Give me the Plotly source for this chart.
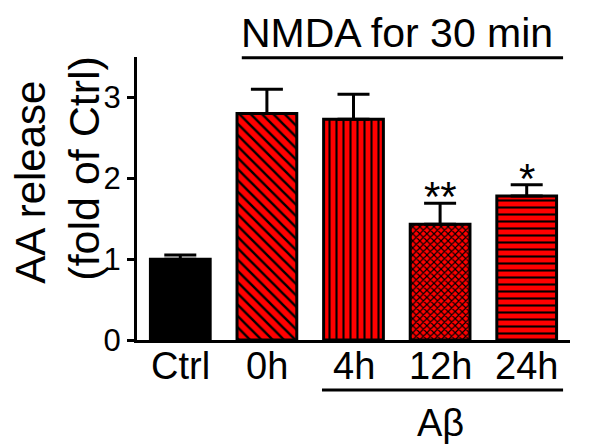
import plotly.graph_objects as go

categories = ["Ctrl", "0h", "4h", "12h", "24h"]
values = [1.00, 2.80, 2.73, 1.43, 1.78]
errors = [0.05, 0.30, 0.31, 0.26, 0.14]
patterns = ["", "\\", "|", "x", "-"]
stars = ["", "", "", "**", "*"]
y_ticks = [0, 1, 2, 3]

FONT = "Liberation Sans, Arial, sans-serif"
xs = list(range(len(categories)))
RED = "#ff0000"

fig = go.Figure()
# control bar (solid black)
fig.add_trace(go.Bar(
    x=xs[:1], y=values[:1], width=0.69,
    marker=dict(color="black", line=dict(color="black", width=3)),
    error_y=dict(type="data", symmetric=False, array=errors[:1], arrayminus=[0],
                 color="black", thickness=3, width=16),
))
# treated bars (red with black patterns)
fig.add_trace(go.Bar(
    x=xs[1:], y=values[1:], width=0.69,
    marker=dict(
        color=RED,
        line=dict(color="black", width=3),
        pattern=dict(shape=patterns[1:], fgcolor="black", bgcolor=RED, fgopacity=1,
                     fillmode="overlay", size=[8, 7, 5, 7], solidity=[0.3, 0.3, 0.4, 0.3]),
    ),
    error_y=dict(type="data", symmetric=False, array=errors[1:],
                 arrayminus=[0] * 4, color="black", thickness=3, width=16),
))

for i, s in enumerate(stars):
    if s:
        fig.add_annotation(x=xs[i], y=values[i] + errors[i], text=s, showarrow=False,
                           yanchor="bottom", yshift=-19, font=dict(family=FONT, size=42, color="black"))

# x tick labels as annotations for precise placement
for i, c in enumerate(categories):
    fig.add_annotation(x=xs[i], xref="x", yref="paper", y=-0.091, text=c, showarrow=False,
                       xanchor="center", yanchor="middle",
                       font=dict(family=FONT, size=38, color="black"))

fig.update_layout(
    width=583, height=437,
    margin=dict(l=129, r=21, t=49, b=105),
    paper_bgcolor="white", plot_bgcolor="white",
    showlegend=False, barmode="overlay",
    font=dict(family=FONT, color="black"),
)
fig.update_xaxes(range=[-0.5, 4.5], tickvals=xs, showticklabels=False, ticks="",
                 showline=True, linecolor="black", linewidth=3, showgrid=False, zeroline=False)
fig.update_yaxes(range=[0, 3.5], tickvals=y_ticks, ticks="outside", ticklen=7, tickwidth=3,
                 tickcolor="black", showline=True, linecolor="black", linewidth=3,
                 showgrid=False, zeroline=False,
                 tickfont=dict(size=31, family=FONT, color="black"))

# y axis title as two rotated lines
fig.add_annotation(xref="paper", yref="paper", x=-0.248, y=0.558, text="AA release",
                   xanchor="center", yanchor="middle",
                   textangle=-90, showarrow=False, font=dict(size=42, family=FONT, color="black"))
fig.add_annotation(xref="paper", yref="paper", x=-0.123, y=0.608, text="(fold of Ctrl)",
                   xanchor="center", yanchor="middle",
                   textangle=-90, showarrow=False, font=dict(size=43, family=FONT, color="black"))

# NMDA label and line
fig.add_shape(type="line", xref="x", yref="paper", x0=0.71, x1=4.42, y0=0.997, y1=0.997,
              line=dict(color="black", width=3))
fig.add_annotation(xref="x", yref="paper", x=2.5, y=0.995, yanchor="bottom", xanchor="center",
                   text="NMDA for 30 min", showarrow=False,
                   font=dict(size=41, family=FONT, color="black"))

# Abeta label and line
fig.add_shape(type="line", xref="x", yref="paper", x0=1.636, x1=4.42, y0=-0.177, y1=-0.177,
              line=dict(color="black", width=3))
fig.add_annotation(xref="x", yref="paper", x=3.0, y=-0.292, text="Aβ", showarrow=False,
                   xanchor="center", yanchor="middle",
                   font=dict(size=38, family=FONT, color="black"))

fig.write_html("out.html")
